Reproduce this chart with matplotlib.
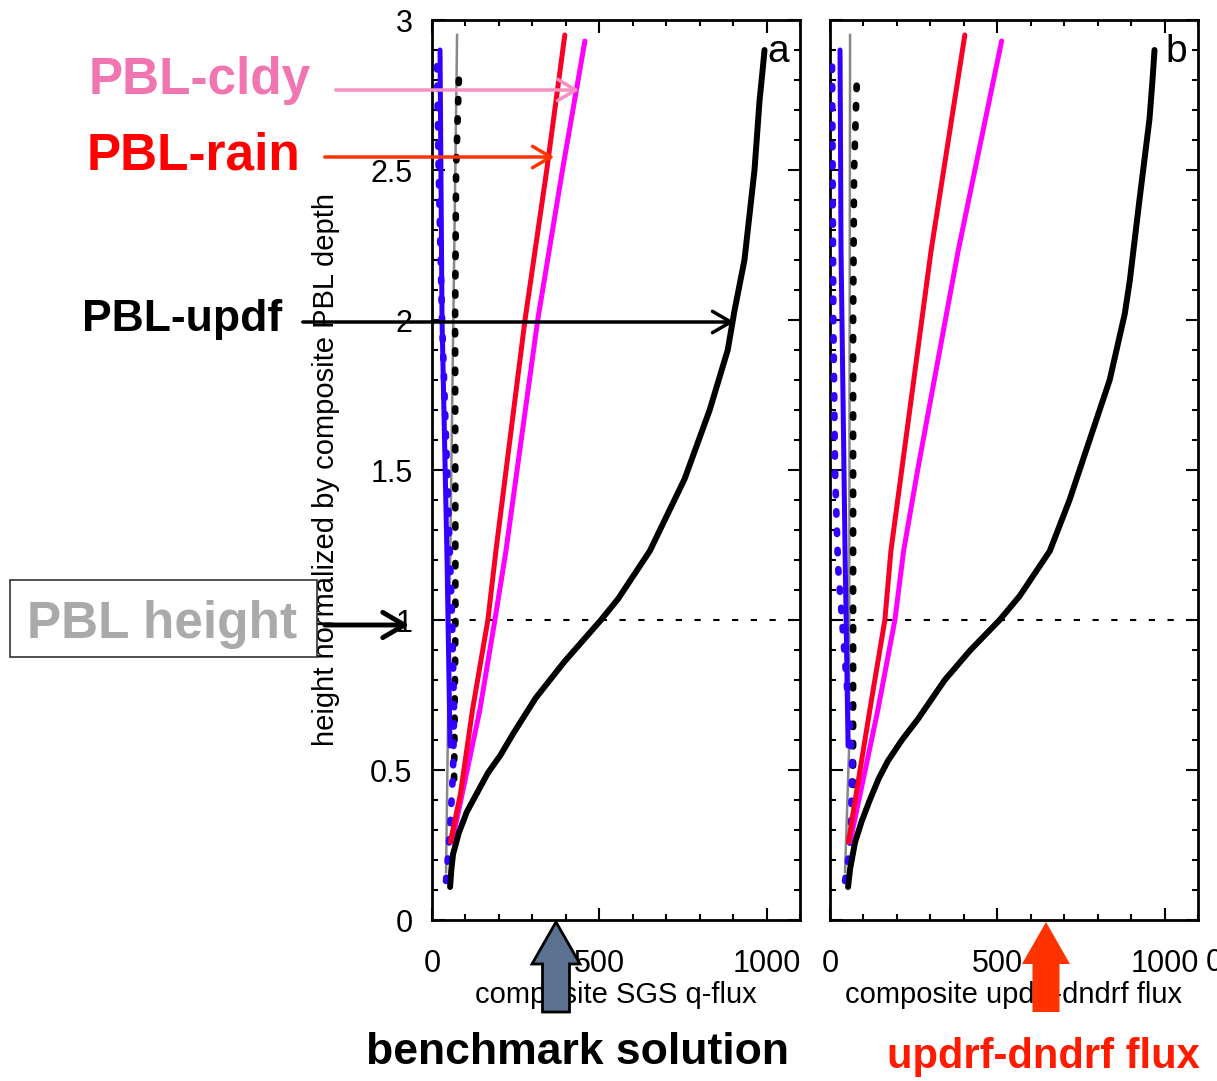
import numpy as np
import matplotlib
matplotlib.use('Agg')
import matplotlib.pyplot as plt
from matplotlib.patches import FancyArrowPatch, Polygon, Rectangle
from matplotlib.ticker import MultipleLocator

plt.rcParams['font.family'] = ['Liberation Sans', 'DejaVu Sans']

# ---- panel a : composite SGS q-flux ----
a_black_y = [0.11, 0.17, 0.22, 0.29, 0.36, 0.42, 0.49, 0.55, 0.62, 0.74, 0.86, 1.0, 1.07, 1.23, 1.47, 1.7, 1.9, 2.03, 2.2, 2.5, 2.73, 2.83, 2.9]
a_black_x = [54, 58, 63, 80, 104, 133, 167, 205, 242, 310, 395, 505, 556, 651, 755, 830, 884, 904, 934, 964, 979, 988, 994]
a_red_y = [0.26, 0.42, 0.7, 1.0, 1.23, 2.0, 2.5, 2.95]
a_red_x = [55, 85, 121, 167, 191, 278, 343, 397]
a_mag_y = [0.26, 0.7, 1.0, 1.23, 2.0, 2.5, 2.93]
a_mag_x = [60, 143, 188, 221, 316, 390, 457]
a_blue_y = [0.58, 1.2, 2.0, 2.9]
a_blue_x = [54, 45, 30, 24]
a_bluedot_y = [0.13, 0.3, 0.5, 0.7, 1.0, 1.5, 2.0, 2.5, 2.87]
a_bluedot_x = [42, 54, 63, 66, 60, 45, 30, 20, 15]
a_blkdot_y = [0.47, 1.0, 2.0, 2.5, 2.83]
a_blkdot_x = [66, 70, 69, 72, 81]
a_gray_y = [0.16, 2.95]
a_gray_x = [42, 75]

# ---- panel b : composite updrf-dndrf flux ----
b_black_y = [0.11, 0.17, 0.26, 0.33, 0.4, 0.47, 0.53, 0.6, 0.67, 0.8, 0.9, 1.0, 1.08, 1.23, 1.4, 1.6, 1.8, 2.02, 2.13, 2.4, 2.67, 2.8, 2.9]
b_black_x = [54, 60, 75, 95, 119, 145, 173, 215, 263, 343, 420, 507, 567, 657, 716, 776, 836, 881, 896, 925, 955, 964, 970]
b_red_y = [0.26, 0.7, 1.0, 1.23, 2.23, 2.95]
b_red_x = [55, 119, 164, 182, 302, 403]
b_mag_y = [0.26, 0.7, 1.0, 1.23, 1.5, 2.23, 2.93]
b_mag_x = [60, 143, 194, 220, 262, 383, 513]
b_blue_y = [0.58, 1.23, 2.23, 2.9]
b_blue_x = [54, 45, 33, 30]
b_bluedot_y = [0.13, 0.22, 0.3, 0.53, 0.73, 1.0, 1.18, 1.5, 2.0, 2.87]
b_bluedot_x = [45, 57, 63, 66, 54, 36, 24, 15, 10, 6]
b_blkdot_y = [0.45, 1.0, 2.0, 2.5, 2.83]
b_blkdot_x = [69, 69, 69, 72, 81]
b_gray_y = [0.16, 0.57, 2.95]
b_gray_x = [45, 57, 60]

xticks = [0, 500, 1000]
yticks = [0, 0.5, 1, 1.5, 2, 2.5, 3]
yticklabels = ['0', '0.5', '1', '1.5', '2', '2.5', '3']

W, H = 1217, 1081
fig = plt.figure(figsize=(W / 100, H / 100), dpi=100)


def fp(x, y):
    # image pixel -> figure fraction
    return (x / W, 1 - y / H)


dots = (0, (0.5, 2.4))


def panel(ax, d, letter, xlabel):
    (bx, by, rx, ry, mx, my, ux, uy, udx, udy, kdx, kdy, gx, gy) = d
    ax.plot(gx, gy, color='#888888', lw=1.8, zorder=2)
    ax.plot(kdx, kdy, color='black', lw=4.8, ls=dots, dash_capstyle='round', zorder=3)
    ax.plot(udx, udy, color='#3300ff', lw=4.8, ls=dots, dash_capstyle='round', zorder=3)
    ax.plot(ux, uy, color='#3300ff', lw=3.6, solid_capstyle='round', zorder=4)
    ax.plot(mx, my, color='#ff00ff', lw=3.6, solid_capstyle='round', zorder=4)
    ax.plot(rx, ry, color='#f80025', lw=3.6, solid_capstyle='round', zorder=4)
    ax.plot(bx, by, color='black', lw=4.3, solid_capstyle='round', solid_joinstyle='round', zorder=5)
    ax.axhline(1.0, color='black', lw=1.5, ls=(0, (3, 6)), zorder=1)
    ax.set_xlim(0, 1100)
    ax.set_ylim(0, 3)
    ax.set_xticks(xticks)
    ax.xaxis.set_minor_locator(MultipleLocator(100))
    ax.yaxis.set_minor_locator(MultipleLocator(0.1))
    ax.tick_params(which='both', direction='in', top=True, right=True, labelsize=22)
    ax.tick_params(axis='x', pad=21)
    ax.tick_params(axis='y', pad=14)
    ax.tick_params(which='major', length=9, width=1.5)
    ax.tick_params(which='minor', length=4.5, width=1.5)
    for s in ax.spines.values():
        s.set_linewidth(2)
    ax.set_xlabel(xlabel, fontsize=21, labelpad=1)
    ax.text(0.94, 0.965, letter, transform=ax.transAxes, fontsize=28, ha='center', va='center')


axa = fig.add_axes([432 / W, 1 - 920 / H, 368 / W, 900 / H])
axb = fig.add_axes([830 / W, 1 - 920 / H, 368 / W, 900 / H])

panel(axa, (a_black_x, a_black_y, a_red_x, a_red_y, a_mag_x, a_mag_y, a_blue_x, a_blue_y,
            a_bluedot_x, a_bluedot_y, a_blkdot_x, a_blkdot_y, a_gray_x, a_gray_y),
      'a', 'composite SGS q-flux')
panel(axb, (b_black_x, b_black_y, b_red_x, b_red_y, b_mag_x, b_mag_y, b_blue_x, b_blue_y,
            b_bluedot_x, b_bluedot_y, b_blkdot_x, b_blkdot_y, b_gray_x, b_gray_y),
      'b', 'composite updrf-dndrf flux')

axa.set_yticks(yticks)
axa.set_yticklabels(yticklabels)
axb.set_yticks(yticks)
axb.set_yticklabels([])
axa.set_ylabel('height normalized by composite PBL depth', fontsize=21)
axa.yaxis.set_label_coords((340 - 432) / 368, 0.5)

# clipped tick label at right edge
fig.text(*fp(1206, 963), '0', fontsize=22, ha='left', va='center')

# ---- annotations ----
bold = dict(fontweight='bold', ha='left', va='baseline')
fig.text(*fp(89, 94), 'PBL-cldy', color='#f075b0', fontsize=37, **bold)
fig.text(*fp(87, 170), 'PBL-rain', color='#ff0000', fontsize=37, **bold)
fig.text(*fp(82, 331), 'PBL-updf', color='black', fontsize=32, **bold)
fig.text(*fp(27, 638), 'PBL height', color='#aaaaaa', fontsize=37, **bold)
fig.add_artist(Rectangle(fp(10, 657), 307 / W, 77 / H, transform=fig.transFigure,
                         fill=False, edgecolor='#333333', lw=1.2))


def arrow(x0, x1, y, color, lw, ms=22):
    fig.add_artist(FancyArrowPatch(fp(x0, y), fp(x1, y), transform=fig.transFigure,
                                   arrowstyle='->,head_length=0.6,head_width=0.35',
                                   mutation_scale=ms, color=color, lw=lw))


arrow(333, 582, 90, '#f590c0', 2.5)
arrow(322, 557, 157, '#ff3300', 2.5)
arrow(300, 737, 322, 'black', 2.5)
arrow(322, 412, 625, 'black', 3.5, ms=26)


def block_arrow(xc, color, edge):
    pts = [fp(xc - 13.5, 1012), fp(xc + 13.5, 1012), fp(xc + 13.5, 964), fp(xc + 24, 964),
           fp(xc, 922), fp(xc - 24, 964), fp(xc - 13.5, 964)]
    fig.add_artist(Polygon(pts, closed=True, transform=fig.transFigure,
                           facecolor=color, edgecolor=edge, lw=2, zorder=10))


block_arrow(556, '#5b7190', 'black')
block_arrow(1046, '#ff3300', 'none')

fig.text(*fp(578, 1064), 'benchmark solution', fontsize=32, fontweight='bold',
         ha='center', va='baseline', color='black')
fig.text(*fp(1043, 1068), 'updrf-dndrf flux', fontsize=30, fontweight='bold',
         ha='center', va='baseline', color='#ff1a00')

fig.savefig('out.png', dpi=100)
